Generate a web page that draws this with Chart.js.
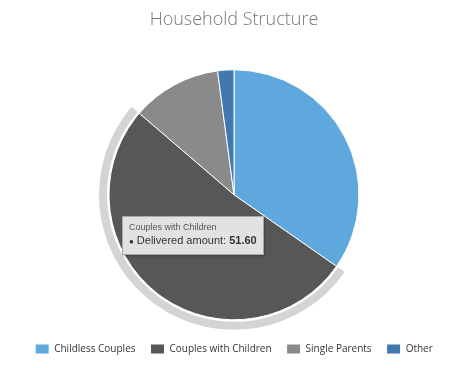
<!DOCTYPE html>
<html>
<head>
<meta charset="utf-8">
<script src="https://cdn.jsdelivr.net/npm/chart.js@4/dist/chart.umd.min.js"></script>
<style>
  html, body { margin: 0; padding: 0; background: #ffffff; }
  #wrap { position: relative; width: 457px; height: 368px; }
  #tip {
    position: absolute; pointer-events: none; opacity: 0;
    background: rgba(230,230,230,0.97); border: 1px solid #a8a8a8;
    box-shadow: 1px 1px 2px rgba(0,0,0,0.25);
    padding: 4px 6px 5px 6px; white-space: nowrap;
    font-family: "Liberation Sans", "DejaVu Sans", sans-serif; color: #333;
  }
  #tip .t { font-size: 9px; color: #555; line-height: 12px; }
  #tip .b { font-size: 11px; color: #333; line-height: 15px; }
  #tip .b strong { font-weight: bold; }
  #tip .dot { font-size: 8px; color: #333; margin-right: 3px; }
</style>
</head>
<body>
<div id="wrap">
  <canvas id="c" width="457" height="368"></canvas>
  <div id="tip"></div>
</div>
<script>
const chartTitle = 'Household Structure';
const categories = ['Childless Couples', 'Couples with Children', 'Single Parents', 'Other'];
const deliveredAmount = [34.7, 51.6, 11.6, 2.1];
const sliceColors = ['#5ea8dd', '#575757', '#8a8a8a', '#4079ad'];
const seriesName = 'Delivered amount';
const hoveredIndex = 1;

Chart.Tooltip.positioners.fixedSpot = function () {
  return { x: 193, y: 235 };
};

const haloPlugin = {
  id: 'halo',
  beforeDatasetsDraw(chart) {
    const act = chart.getActiveElements();
    if (!act.length) return;
    const el = act[0].element;
    const ctx = chart.ctx;
    ctx.save();
    ctx.beginPath();
    ctx.arc(el.x, el.y, el.outerRadius + 10, el.startAngle, el.endAngle);
    ctx.arc(el.x, el.y, el.outerRadius + 2, el.endAngle, el.startAngle, true);
    ctx.closePath();
    ctx.fillStyle = '#d4d4d4';
    ctx.fill();
    ctx.restore();
  }
};

function externalTip(context) {
  const tip = document.getElementById('tip');
  const m = context.tooltip;
  if (m.opacity === 0) { tip.style.opacity = 0; return; }
  const dp = m.dataPoints[0];
  tip.innerHTML = '<div class="t">' + m.title[0] + '</div>' +
    '<div class="b"><span class="dot">&#9679;</span>' + dp.dataset.label + ': <strong>' +
    Number(dp.raw).toFixed(2) + '</strong></div>';
  tip.style.opacity = 1;
  tip.style.left = (m.caretX - tip.offsetWidth / 2) + 'px';
  tip.style.top = (m.caretY - tip.offsetHeight / 2) + 'px';
}

const chart = new Chart(document.getElementById('c'), {
  type: 'pie',
  data: {
    labels: categories,
    datasets: [{
      label: seriesName,
      data: deliveredAmount,
      backgroundColor: sliceColors,
      hoverBackgroundColor: sliceColors,
      borderColor: '#ffffff',
      hoverBorderColor: '#ffffff',
      borderWidth: 1,
      hoverBorderWidth: 1,
      hoverOffset: 0,
      radius: 125
    }]
  },
  plugins: [haloPlugin],
  options: {
    responsive: false,
    animation: false,
    events: [],
    layout: { padding: { left: 11, right: 0, top: 0, bottom: 4 } },
    plugins: {
      title: {
        display: true,
        text: chartTitle,
        color: '#777777',
        font: { family: 'Open Sans', size: 18, weight: '300' },
        padding: { top: 9, bottom: 34 }
      },
      legend: {
        position: 'bottom',
        title: {
          display: true,
          text: '',
          padding: 0,
          font: { size: 4, lineHeight: 1 }
        },
        labels: {
          color: '#333333',
          font: { family: 'Open Sans', size: 10 },
          boxWidth: 14,
          boxHeight: 10,
          padding: 15
        }
      },
      tooltip: {
        enabled: false,
        position: 'fixedSpot',
        external: externalTip
      }
    }
  }
});

chart.setActiveElements([{ datasetIndex: 0, index: hoveredIndex }]);
chart.tooltip.setActiveElements([{ datasetIndex: 0, index: hoveredIndex }], { x: 193, y: 235 });
chart.update();
</script>
</body>
</html>
